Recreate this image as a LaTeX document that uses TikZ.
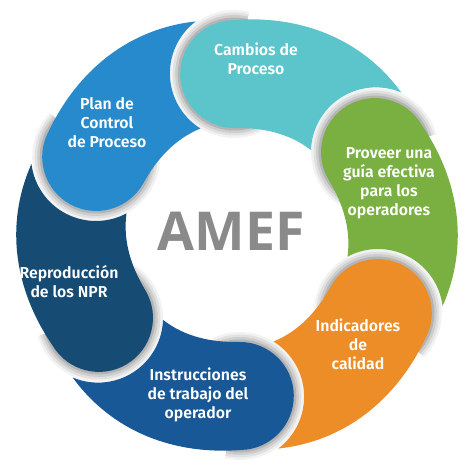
\documentclass[tikz,border=0pt]{standalone}
\usepackage{fontspec}
\setsansfont{Open Sans}
\IfFontExistsTF{Fira Sans SemiBold}
    {\newfontfamily\labelfont{Fira Sans SemiBold}\newcommand{\labelsize}{\fontsize{9}{10.8}\selectfont}}
    {\newfontfamily\labelfont{Open Sans}[UprightFont=*-Bold]\newcommand{\labelsize}{\fontsize{8.3}{10.8}\selectfont}}

\definecolor{cambios}{RGB}{92,197,203}
\definecolor{proveer}{RGB}{122,176,66}
\definecolor{indicadores}{RGB}{236,141,40}
\definecolor{instrucciones}{RGB}{25,88,150}
\definecolor{npr}{RGB}{22,76,116}
\definecolor{plan}{RGB}{39,138,205}
\definecolor{amefgray}{RGB}{138,138,138}

% one ring piece: round cap at angle #1, tail bent round the next cap
\newcommand{\piece}[1]{(#1:107) arc[start angle=#1+180, end angle=#1, radius=54]
    .. controls ({#1-17}:229) and ({#1-33.4}:233) .. ({#1-50.08}:217.5)
    arc[start angle=#1-24, end angle=#1+87, radius=65]
    .. controls ({#1-27.85}:114.5) and ({#1-14.1}:110.3) .. (#1:107) -- cycle}

\begin{document}
\begin{tikzpicture}[x=0.02cm, y=0.02cm,
        segtext/.style={text=white, align=center, font=\labelfont\labelsize},
        title/.style={text=amefgray, font=\sffamily\bfseries\fontsize{30.5}{30.5}\selectfont},
    ]
    \useasboundingbox (-237,-239) rectangle (237,235);
    %% shadow under the caps
    \foreach \a in {91,31,-29,-89,-149,151}
        \foreach \w/\o in {20/.05,15/.07,10/.09,5/.12}
            \draw[black, opacity=\o, line width=\w*0.02cm] (\a:161) ++({\a+205}:54) arc[start angle=\a+205, end angle=\a-15, radius=54];
    %% ring pieces
    \foreach \a/\c in {91/cambios, 31/proveer, -29/indicadores, -89/instrucciones, -149/npr, 151/plan}
        \fill[\c] \piece{\a};
    %% texts
    \node[segtext] (cambios-txt) at (19,176) {Cambios de\\Proceso};
    \node[segtext] (plan-txt) at (-130,112) {Plan de\\Control\\de Proceso};
    \node[segtext] (proveer-txt) at (152,52) {Proveer una\\guía efectiva\\para los\\operadores};
    \node[segtext] (npr-txt) at (-168,-47) {Reproducción\\de los NPR};
    \node[segtext] (indicadores-txt) at (121,-109) {Indicadores\\de\\calidad};
    \node[segtext] (instrucciones-txt) at (-39,-160) {Instrucciones\\de trabajo del\\operador};
    \node[title] (amef) at (-6,4) {AMEF};
\end{tikzpicture}
\end{document}
